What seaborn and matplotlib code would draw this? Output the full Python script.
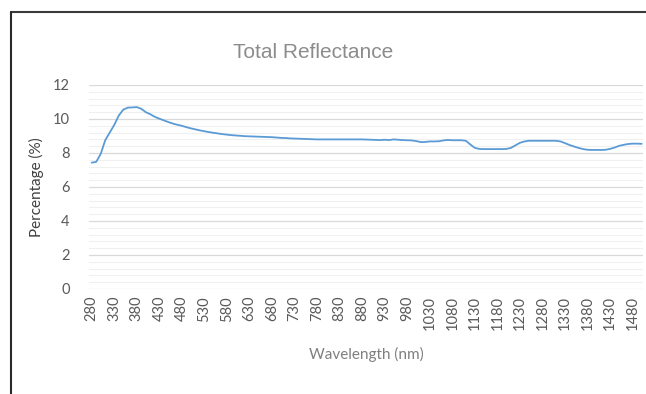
import matplotlib
matplotlib.use("Agg")
import matplotlib.pyplot as plt
import seaborn as sns
import pandas as pd
from matplotlib.lines import Line2D
from matplotlib.ticker import MultipleLocator

# ---- data ----
wavelength = list(range(280, 1501, 10))
reflectance = [
    7.43, 7.48, 7.95, 8.75, 9.20, 9.65, 10.20, 10.55, 10.67, 10.68,   # 280-370
    10.70, 10.60, 10.40, 10.28, 10.13, 10.02, 9.92, 9.82, 9.73, 9.66,  # 380-470
    9.60, 9.52, 9.45, 9.39, 9.33, 9.28, 9.23, 9.19, 9.15, 9.11,        # 480-570
    9.08, 9.05, 9.03, 9.01, 8.99, 8.98, 8.97, 8.96, 8.95, 8.94,        # 580-670
    8.93, 8.91, 8.89, 8.88, 8.86, 8.85, 8.84, 8.83, 8.82, 8.81,        # 680-770
    8.80, 8.80, 8.80, 8.80, 8.80, 8.80, 8.80, 8.80, 8.80, 8.80,        # 780-870
    8.80, 8.79, 8.78, 8.77, 8.76, 8.78, 8.76, 8.80, 8.78, 8.76,        # 880-970
    8.75, 8.74, 8.70, 8.64, 8.65, 8.68, 8.68, 8.69, 8.74, 8.77,        # 980-1070
    8.75, 8.75, 8.75, 8.72, 8.50, 8.30, 8.24, 8.23, 8.23, 8.23,        # 1080-1170
    8.23, 8.23, 8.24, 8.30, 8.45, 8.60, 8.68, 8.72, 8.72, 8.72,        # 1180-1270
    8.72, 8.72, 8.72, 8.72, 8.68, 8.58, 8.47, 8.38, 8.30, 8.23,        # 1280-1370
    8.19, 8.18, 8.18, 8.18, 8.19, 8.24, 8.32, 8.42, 8.48, 8.53,        # 1380-1470
    8.55, 8.55, 8.54,                                                  # 1480-1500
]
tick_labels = wavelength[::5]

title = "Total Reflectance"
xlabel = "Wavelength (nm)"
ylabel = "Percentage (%)"

df = pd.DataFrame({"Wavelength": wavelength, "Reflectance": reflectance})

sns.set_theme(style="white")
plt.rcParams["font.family"] = ["Lato", "DejaVu Sans"]

fig = plt.figure(figsize=(6.46, 3.94), dpi=100)
ax = fig.add_axes([89 / 646, 1 - 289 / 394, (643 - 89) / 646, (289 - 85) / 394])

sns.lineplot(data=df, x="Wavelength", y="Reflectance", ax=ax,
             color="#5B9BD5", linewidth=1.3)

ax.set_xlim(274, 1503)
ax.set_ylim(0, 12)
ax.yaxis.set_major_locator(MultipleLocator(2))
ax.yaxis.set_minor_locator(MultipleLocator(0.4))
ax.set_xticks(tick_labels)
ax.set_xticklabels([str(t) for t in tick_labels], rotation=90)

ax.grid(which="major", axis="y", color="#d9d9d9", linewidth=0.9)
ax.grid(which="minor", axis="y", color="#f0f0f0", linewidth=0.8)
ax.grid(which="major", axis="x", visible=False)
ax.set_axisbelow(True)
for s in ax.spines.values():
    s.set_visible(False)

ax.tick_params(axis="both", which="both", length=0, labelsize=10.5,
               labelcolor="#595959")
ax.tick_params(axis="y", pad=14)
ax.tick_params(axis="x", pad=5)

ax.set_xlabel(xlabel, fontsize=11, color="#7f7f7f", labelpad=12)
ax.set_ylabel(ylabel, fontsize=11, color="#404040", labelpad=6)

fig.text(313 / 646, 1 - 53 / 394, title, ha="center", va="center",
         fontsize=15, color="#8c8c8c", family=["Liberation Sans", "DejaVu Sans"])

# outer frame (top and left only)
fig.add_artist(Line2D([11 / 646, 1.0], [1 - 12 / 394, 1 - 12 / 394],
                      transform=fig.transFigure, color="#3a3a3a", linewidth=1.5))
fig.add_artist(Line2D([11 / 646, 11 / 646], [0, 1 - 12 / 394],
                      transform=fig.transFigure, color="#2a2a2a", linewidth=1.5))

fig.savefig("out.png", dpi=100, facecolor="white")
